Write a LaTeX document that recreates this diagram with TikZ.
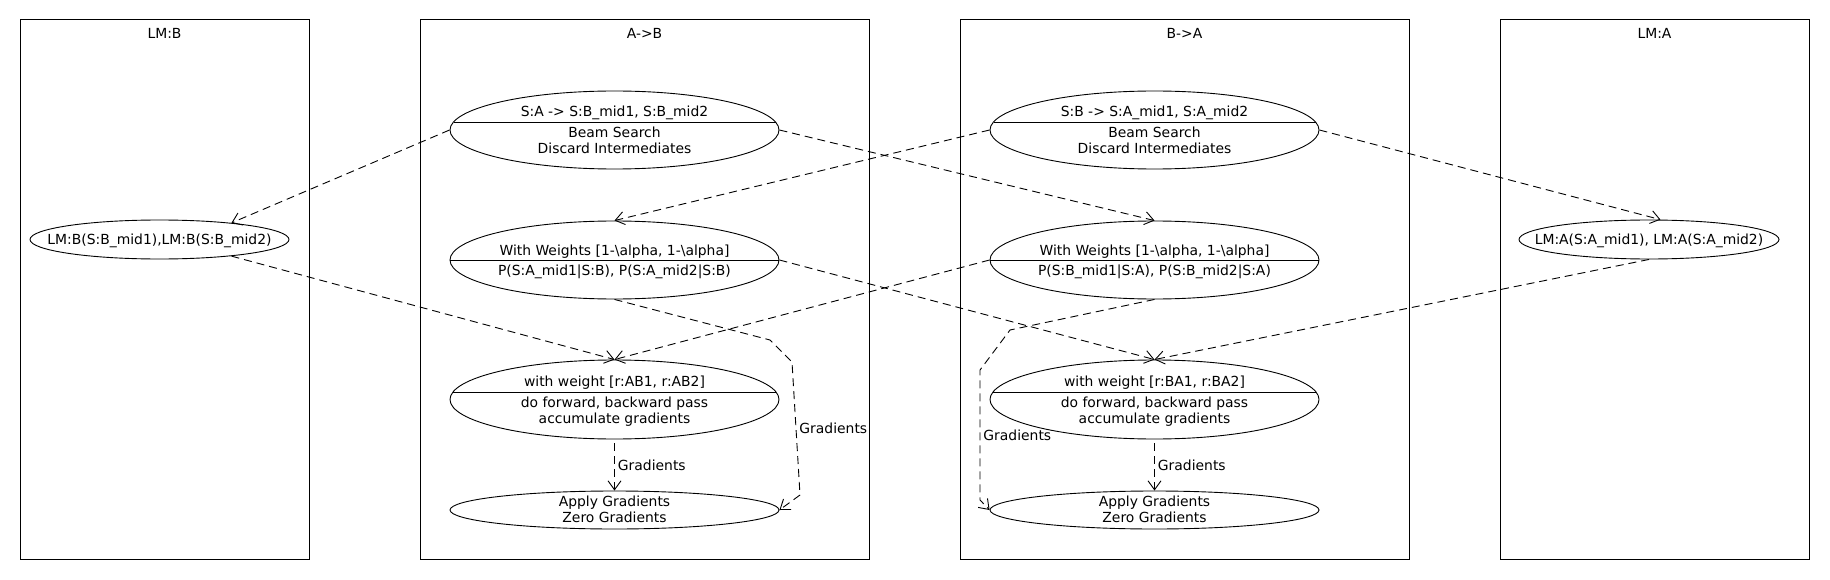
\documentclass[tikz,border=0pt]{standalone}
\usepackage{fontspec}
\setmainfont{DejaVu Sans}
\usetikzlibrary{shapes.geometric,arrows.meta,calc}
\tikzset{
  lanebox/.style={draw,line width=1pt,inner sep=0pt,minimum width=289pt,minimum height=539pt},
  usecase/.style={ellipse,draw,line width=0.9pt,inner sep=0pt,minimum width=329pt,minimum height=78pt},
  txt/.style={inner sep=3pt,font=\fontsize{13.9pt}{16.5pt}\selectfont},
  flowline/.style={line width=0.9pt,dash pattern=on 8pt off 5pt,-{Straight Barb[length=9pt,width=13pt]}},
}
\begin{document}
\begin{tikzpicture}[x=1pt,y=-1pt]
\useasboundingbox (0,0) rectangle (1830,580);
%lanes
\node[lanebox] (laneLMB) at (164.5,289.5) {};
\node[lanebox,minimum width=449pt] (laneAB) at (644.5,289.5) {};
\node[lanebox,minimum width=449pt] (laneBA) at (1184.5,289.5) {};
\node[lanebox,minimum width=309pt] (laneLMA) at (1654.5,289.5) {};
\node[txt,anchor=base] (titleLMB) at (164.5,38.3) {LM:B};
\node[txt,anchor=base] (titleAB) at (644.5,38.3) {A->B};
\node[txt,anchor=base] (titleBA) at (1184.5,38.3) {B->A};
\node[txt,anchor=base] (titleLMA) at (1654.5,38.3) {LM:A};
%language models
\node[usecase,minimum width=259pt,minimum height=39pt] (lmB) at (159.5,239.5) {};
\node[txt,anchor=base] (lmBt) at (159.5,244.5) {LM:B(S:B\_mid1),LM:B(S:B\_mid2)};
\node[usecase,minimum width=260pt,minimum height=39pt] (lmA) at (1649,239.5) {};
\node[txt,anchor=base] (lmAt) at (1649,244.5) {LM:A(S:A\_mid1), LM:A(S:A\_mid2)};
%A->B
\node[usecase] (ab1) at (614.5,130) {};
\draw[line width=0.9pt] ($(ab1.center)+(-161,-8)$) -- ($(ab1.center)+(161,-8)$);
\node[txt,anchor=base] (ab1a) at (614.5,116.5) {S:A -> S:B\_mid1, S:B\_mid2};
\node[txt,anchor=base] (ab1b) at (614.5,137.7) {Beam Search};
\node[txt,anchor=base] (ab1c) at (614.5,154) {Discard Intermediates};
\node[usecase] (ab2) at (614.5,260) {};
\draw[line width=0.9pt] (ab2.west) -- (ab2.east);
\node[txt,anchor=base] (ab2a) at (614.5,255) {With Weights [1-\textbackslash alpha, 1-\textbackslash alpha]};
\node[txt,anchor=base] (ab2b) at (614.5,275.7) {P(S:A\_mid1|S:B), P(S:A\_mid2|S:B)};
\node[usecase,minimum height=79pt] (ab3) at (614.5,399.5) {};
\draw[line width=0.9pt] ($(ab3.center)+(-161.5,-7.5)$) -- ($(ab3.center)+(161.5,-7.5)$);
\node[txt,anchor=base] (ab3a) at (614.5,386.7) {with weight [r:AB1, r:AB2]};
\node[txt,anchor=base] (ab3b) at (614.5,407.7) {do forward, backward pass};
\node[txt,anchor=base] (ab3c) at (614.5,423.7) {accumulate gradients};
\node[usecase,minimum height=38pt] (ab4) at (614.5,510) {};
\node[txt,anchor=base] (ab4a) at (614.5,506.7) {Apply Gradients};
\node[txt,anchor=base] (ab4b) at (614.5,522.7) {Zero Gradients};
%B->A
\node[usecase] (ba1) at (1154.5,130) {};
\draw[line width=0.9pt] ($(ba1.center)+(-161,-8)$) -- ($(ba1.center)+(161,-8)$);
\node[txt,anchor=base] (ba1a) at (1154.5,116.5) {S:B -> S:A\_mid1, S:A\_mid2};
\node[txt,anchor=base] (ba1b) at (1154.5,137.7) {Beam Search};
\node[txt,anchor=base] (ba1c) at (1154.5,154) {Discard Intermediates};
\node[usecase] (ba2) at (1154.5,260) {};
\draw[line width=0.9pt] (ba2.west) -- (ba2.east);
\node[txt,anchor=base] (ba2a) at (1154.5,255) {With Weights [1-\textbackslash alpha, 1-\textbackslash alpha]};
\node[txt,anchor=base] (ba2b) at (1154.5,275.7) {P(S:B\_mid1|S:A), P(S:B\_mid2|S:A)};
\node[usecase,minimum height=79pt] (ba3) at (1154.5,399.5) {};
\draw[line width=0.9pt] ($(ba3.center)+(-161.5,-7.5)$) -- ($(ba3.center)+(161.5,-7.5)$);
\node[txt,anchor=base] (ba3a) at (1154.5,386.7) {with weight [r:BA1, r:BA2]};
\node[txt,anchor=base] (ba3b) at (1154.5,407.7) {do forward, backward pass};
\node[txt,anchor=base] (ba3c) at (1154.5,423.7) {accumulate gradients};
\node[usecase,minimum height=38pt] (ba4) at (1154.5,510) {};
\node[txt,anchor=base] (ba4a) at (1154.5,506.7) {Apply Gradients};
\node[txt,anchor=base] (ba4b) at (1154.5,522.7) {Zero Gradients};
%bends of the long gradient paths
\coordinate (abg1) at (770,340);
\coordinate (abg2) at (792,362);
\coordinate (abg3) at (800,495);
\coordinate (bag1) at (1010,330);
\coordinate (bag2) at (980,370);
\coordinate (bag3) at (980,500);
%connectors
\draw[flowline] (ab1.west) -- (lmB.13);
\draw[flowline] (ab1.east) -- (ba2.north);
\draw[flowline] (ba1.west) -- (ab2.north);
\draw[flowline] (ba1.east) -- (lmA.60);
\draw[flowline] (lmB.-13) -- (ab3.north);
\draw[flowline] (ab2.east) -- (ba3.north);
\draw[flowline] (ba2.west) -- (ab3.north);
\draw[flowline] (lmA.south) -- (ba3.north);
\draw[flowline,shorten <=4pt] (ab3.south) -- node[txt,right,midway] (abgr) {Gradients} (ab4.north);
\draw[flowline,shorten <=4pt] (ba3.south) -- node[txt,right,midway] (bagr) {Gradients} (ba4.north);
\draw[flowline] (ab2.south) -- (abg1) -- (abg2) -- node[txt,right,midway] (abgr2) {Gradients} (abg3) -- (ab4.east);
\draw[flowline] (ba2.south) -- (bag1) -- (bag2) -- node[txt,right,midway] (bagr2) {Gradients} (bag3) -- (ba4.west);
\end{tikzpicture}
\end{document}
